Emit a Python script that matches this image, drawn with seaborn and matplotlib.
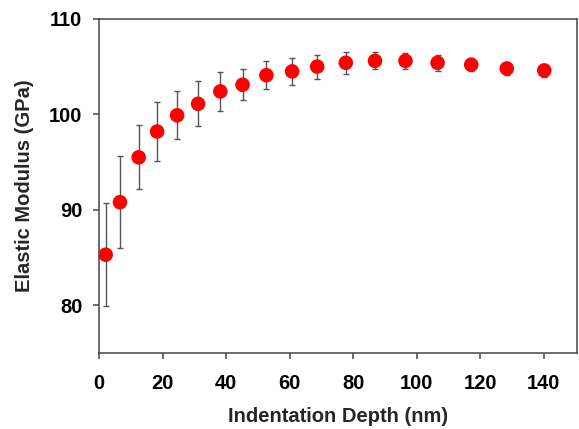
import numpy as np
import pandas as pd
import seaborn as sns
import matplotlib.pyplot as plt

# indentation depth (nm), elastic modulus (GPa) and error bar half-widths
depth = [2.1, 6.6, 12.5, 18.3, 24.6, 31.2, 38.2, 45.2, 52.7, 60.8, 68.7, 77.7, 86.9, 96.5, 106.6, 117.2, 128.4, 140.2]
modulus = [85.3, 90.8, 95.5, 98.2, 99.9, 101.1, 102.4, 103.1, 104.1, 104.5, 105.0, 105.4, 105.6, 105.6, 105.4, 105.2, 104.8, 104.6]
err = [5.4, 4.8, 3.35, 3.1, 2.5, 2.35, 2.0, 1.6, 1.45, 1.4, 1.25, 1.15, 0.9, 0.8, 0.85, 0.7, 0.65, 0.65]

xticks = [0, 20, 40, 60, 80, 100, 120, 140]
yticks = [80, 90, 100, 110]

df = pd.DataFrame({'depth': depth, 'modulus': modulus, 'err': err})

sns.set_theme(style="ticks")
plt.rcParams['font.family'] = ['Liberation Sans', 'DejaVu Sans']

fig = plt.figure(figsize=(5.79, 4.29), dpi=100)
ax = fig.add_axes([0.171, 0.177, 0.8255, 0.779])

ax.errorbar(df['depth'], df['modulus'], yerr=df['err'], fmt='none',
            ecolor='#555555', elinewidth=1.0, capsize=2.5, capthick=1.0, zorder=2)
sns.scatterplot(data=df, x='depth', y='modulus', ax=ax, color='#ff0000',
                s=110, edgecolor='none', zorder=3, legend=False)

ax.set_xlim(0, 150.5)
ax.set_ylim(75, 110)
ax.set_xticks(xticks)
ax.set_yticks(yticks)
ax.tick_params(axis='x', direction='out', length=4, width=1.1, pad=11, labelsize=14.5, colors='#444444', labelcolor='black')
ax.tick_params(axis='y', direction='out', length=4, width=1.1, pad=8, labelsize=14.5, colors='#444444', labelcolor='black')
for lab in ax.get_xticklabels() + ax.get_yticklabels():
    lab.set_fontweight('bold')

for sp in ax.spines.values():
    sp.set_visible(True)
    sp.set_color('#444444')
    sp.set_linewidth(1.1)

ax.set_xlabel('Indentation Depth (nm)', fontsize=14.5, fontweight='bold', labelpad=10)
ax.set_ylabel('Elastic Modulus (GPa)', fontsize=14.5, fontweight='bold', labelpad=11)

fig.savefig('out.png', dpi=100)
